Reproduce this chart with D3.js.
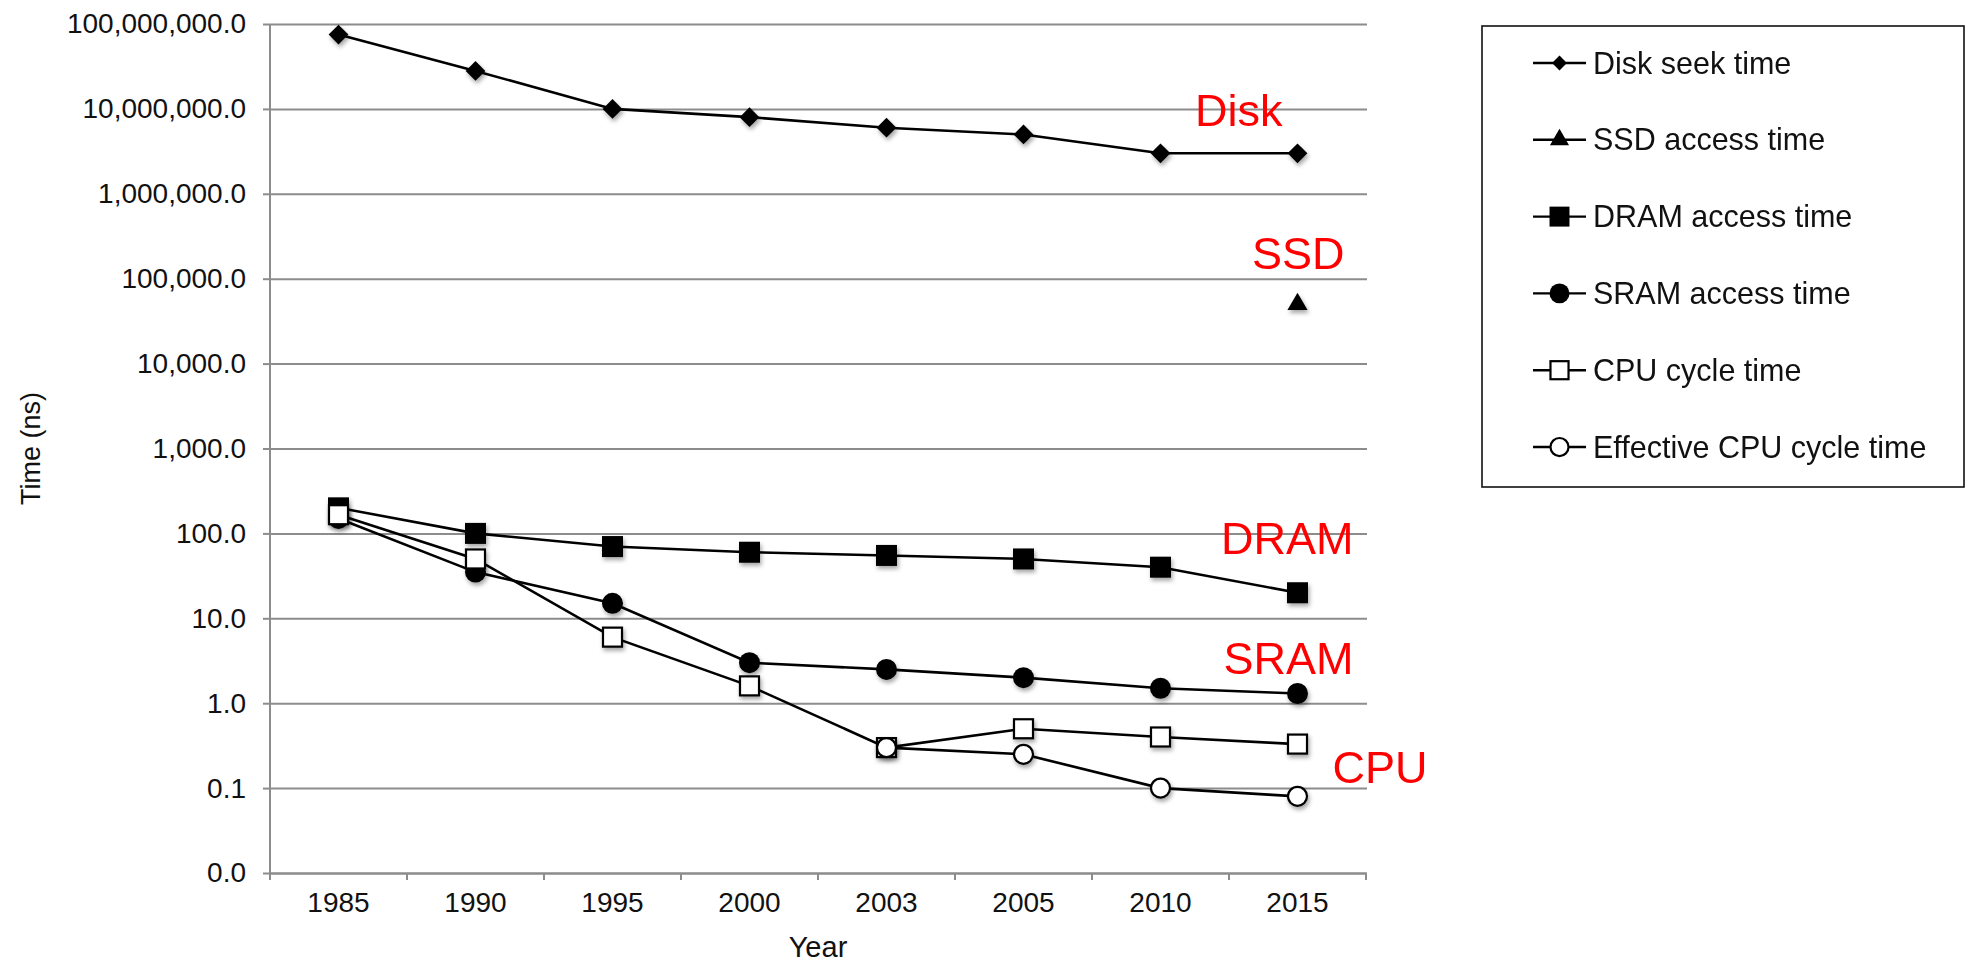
<!DOCTYPE html>
<html>
<head>
<meta charset="utf-8">
<script src="https://cdn.jsdelivr.net/npm/d3@7"></script>
<style>
  html, body { margin: 0; padding: 0; background: #fff; }
  svg { display: block; font-family: "Liberation Sans", Arial, Helvetica, sans-serif; }
</style>
</head>
<body>
<svg id="chart" width="1967" height="962"></svg>
<script>
// ---- data ----
const years = ["1985", "1990", "1995", "2000", "2003", "2005", "2010", "2015"];
const diskSeek = [75000000, 28000000, 10000000, 8000000, 6000000, 5000000, 3000000, 3000000];
const ssdAccess = [null, null, null, null, null, null, null, 50000];
const dramAccess = [200, 100, 70, 60, 55, 50, 40, 20];
const sramAccess = [150, 35, 15, 3, 2.5, 2.0, 1.5, 1.3];
const cpuCycle = [166, 50, 6, 1.6, 0.30, 0.50, 0.4, 0.33];
const effCpuCycle = [null, null, null, null, 0.30, 0.25, 0.10, 0.08];
const yTickValues = [0.01, 0.1, 1, 10, 100, 1000, 10000, 100000, 1000000, 10000000, 100000000];
const seriesNames = ["Disk seek time", "SSD access time", "DRAM access time", "SRAM access time", "CPU cycle time", "Effective CPU cycle time"];
const annotations = ["Disk", "SSD", "DRAM", "SRAM", "CPU"];

(function () {
// ---- layout ----
const svg = d3.select("#chart");
const pLeft = 270, pRight = 1366, pTop = 24, pBottom = 873;
const x = d3.scaleBand().domain(years).range([pLeft, pRight]).padding(0);
const y = d3.scaleLog().domain([0.01, 100000000]).range([pBottom, pTop]);
const cx = d => x(d) + x.bandwidth() / 2;

const defs = svg.append("defs");
const f = defs.append("filter").attr("id", "shadow").attr("x", "-50%").attr("y", "-50%").attr("width", "200%").attr("height", "200%");
f.append("feDropShadow").attr("dx", 1.5).attr("dy", 3).attr("stdDeviation", 2).attr("flood-color", "#000").attr("flood-opacity", 0.35);

const gridColor = "#8c8c8c";

// gridlines + y axis
const yAxis = d3.axisLeft(y).tickValues(yTickValues).tickFormat(d3.format(",.1f")).tickSize(7).tickPadding(17);
const gy = svg.append("g").attr("transform", `translate(${pLeft},0)`).call(yAxis);
gy.select(".domain").remove();
gy.selectAll(".tick line").attr("stroke", gridColor).attr("stroke-width", 2);
gy.selectAll(".tick text").attr("font-size", 28).attr("fill", "#111").attr("font-family", "Liberation Sans, Arial, sans-serif");

const grid = d3.axisLeft(y).tickValues(yTickValues).tickSize(-(pRight - pLeft + 1)).tickFormat("");
const gg = svg.append("g").attr("transform", `translate(${pLeft},0)`).call(grid);
gg.select(".domain").remove();
gg.selectAll(".tick line").attr("stroke", gridColor).attr("stroke-width", 2);

// y axis line
svg.append("line").attr("x1", pLeft).attr("x2", pLeft).attr("y1", pTop).attr("y2", pBottom)
  .attr("stroke", gridColor).attr("stroke-width", 2);

// x axis
const xAxis = d3.axisBottom(x).tickSize(0).tickPadding(0);
const gx = svg.append("g").attr("transform", `translate(0,${pBottom})`).call(xAxis);
gx.select(".domain").attr("stroke", gridColor).attr("stroke-width", 2);
gx.selectAll(".tick text").attr("font-size", 28).attr("fill", "#111").attr("dy", null).attr("y", 39)
  .attr("font-family", "Liberation Sans, Arial, sans-serif");
// boundary ticks
const bounds = years.map(d => x(d)).concat([x(years[years.length - 1]) + x.bandwidth()]);
svg.append("g").selectAll("line").data(bounds).join("line")
  .attr("x1", d => d).attr("x2", d => d).attr("y1", pBottom).attr("y2", pBottom + 7)
  .attr("stroke", gridColor).attr("stroke-width", 2);

// axis titles
svg.append("text").attr("x", (pLeft + pRight) / 2).attr("y", 957).attr("text-anchor", "middle")
  .attr("font-size", 29).attr("fill", "#111").text("Year");
svg.append("text").attr("transform", `translate(40,${(pTop + pBottom) / 2}) rotate(-90)`).attr("text-anchor", "middle")
  .attr("font-size", 27).attr("fill", "#111").text("Time (ns)");

// ---- series ----
const series = [
  { name: seriesNames[0], values: diskSeek, marker: "diamond", fill: "#000" },
  { name: seriesNames[1], values: ssdAccess, marker: "triangle", fill: "#000" },
  { name: seriesNames[2], values: dramAccess, marker: "square", fill: "#000" },
  { name: seriesNames[3], values: sramAccess, marker: "circle", fill: "#000" },
  { name: seriesNames[4], values: cpuCycle, marker: "square", fill: "#fff" },
  { name: seriesNames[5], values: effCpuCycle, marker: "circle", fill: "#fff" }
];

function drawMarker(g, type, fill, scale) {
  const s = scale || 1;
  let el;
  if (type === "diamond") {
    el = g.append("path").attr("d", d3.symbol(d3.symbolSquare, 195 * s * s)()).attr("transform", "rotate(45)");
  } else if (type === "triangle") {
    el = g.append("path").attr("d", d3.symbol(d3.symbolTriangle, 175 * s * s)());
  } else if (type === "square") {
    const h = (fill === "#fff" ? 9.5 : 10.5) * s;
    el = g.append("rect").attr("x", -h).attr("y", -h).attr("width", 2 * h).attr("height", 2 * h);
  } else {
    el = g.append("circle").attr("r", (fill === "#fff" ? 9.5 : 10.5) * s);
  }
  el.attr("fill", fill);
  if (fill === "#fff") el.attr("stroke", "#000").attr("stroke-width", 2.2);
  return el;
}

const line = d3.line().defined(d => d.v != null).x(d => cx(d.year)).y(d => y(d.v));

series.forEach(s => {
  const pts = years.map((yr, i) => ({ year: yr, v: s.values[i] }));
  svg.append("path").datum(pts).attr("d", line).attr("fill", "none")
    .attr("stroke", "#000").attr("stroke-width", 2.6);
  const mg = svg.append("g").attr("filter", "url(#shadow)");
  pts.filter(p => p.v != null).forEach(p => {
    const g = mg.append("g").attr("transform", `translate(${cx(p.year)},${y(p.v)})`);
    drawMarker(g, s.marker, s.fill, 1);
  });
});

// ---- red annotations ----
const last = cx(years[years.length - 1]);
const ann = [
  { t: annotations[0], x: last - 15, y: y(10000000) + 17, a: "end" },
  { t: annotations[1], x: last + 47, y: y(100000) - 10, a: "end" },
  { t: annotations[2], x: last + 56, y: y(100) + 21, a: "end" },
  { t: annotations[3], x: last + 56, y: y(1) - 29, a: "end" },
  { t: annotations[4], x: last + 35, y: y(0.1) - 5, a: "start" }
];
svg.append("g").selectAll("text").data(ann).join("text")
  .attr("x", d => d.x).attr("y", d => d.y).attr("text-anchor", d => d.a)
  .attr("font-size", 45).attr("fill", "#ff0000").text(d => d.t);

// ---- legend ----
const lg = svg.append("g");
lg.append("rect").attr("x", 1482).attr("y", 26).attr("width", 482).attr("height", 461)
  .attr("fill", "#fff").attr("stroke", "#111").attr("stroke-width", 1.6);
const rowY = d3.scalePoint().domain(seriesNames).range([63, 447]);
series.forEach(s => {
  const ry = rowY(s.name);
  lg.append("line").attr("x1", 1533).attr("x2", 1586).attr("y1", ry).attr("y2", ry)
    .attr("stroke", "#000").attr("stroke-width", 2.4);
  const g = lg.append("g").attr("transform", `translate(1559.5,${ry})`);
  drawMarker(g, s.marker, s.fill, s.marker === "diamond" ? 0.75 : 0.95);
  lg.append("text").attr("x", 1593).attr("y", ry + 10.5).attr("font-size", 30.5).attr("fill", "#111").text(s.name);
});
})();
</script>
</body>
</html>
